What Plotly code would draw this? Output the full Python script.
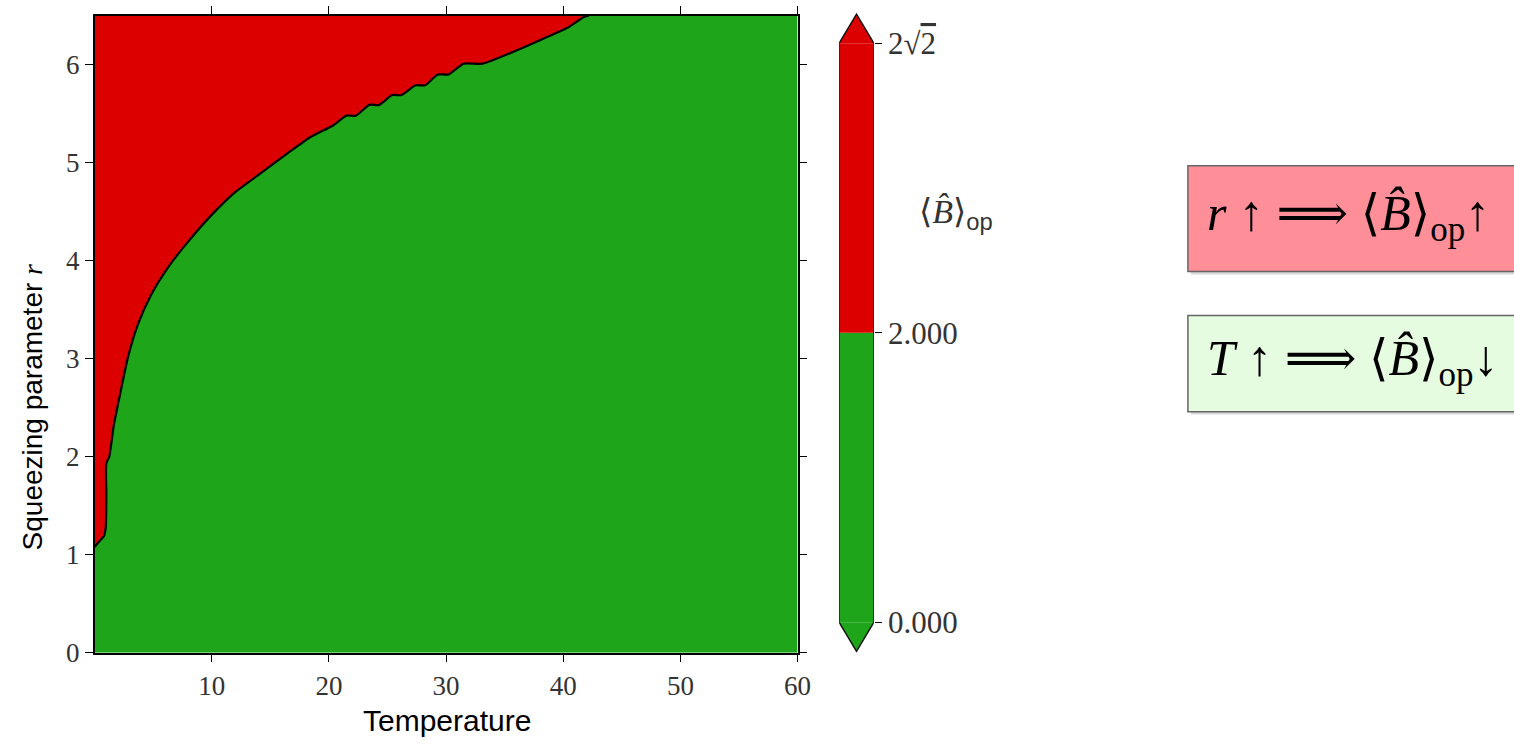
import plotly.graph_objects as go

# ---- data ----
T_boundary = [0.0, 0.35, 0.8, 0.95, 1.0, 1.0, 1.25, 1.65, 2.04, 2.88, 3.73, 4.86, 6.26, 7.95,
              9.93, 11.9, 14.16, 16.4, 18.4, 20.35, 21.5, 22.3, 23.45, 24.3, 25.4, 26.2, 27.4,
              28.2, 29.3, 30.2, 31.5, 33.1, 35.9, 38.2, 40.4, 41.8, 42.2]
r_boundary = [1.08, 1.13, 1.19, 1.28, 1.60, 1.93, 2.0, 2.33, 2.56, 3.03, 3.36, 3.66, 3.93, 4.19,
              4.46, 4.69, 4.89, 5.09, 5.26, 5.38, 5.48, 5.48, 5.59, 5.59, 5.69, 5.69, 5.79,
              5.79, 5.9, 5.9, 6.01, 6.01, 6.14, 6.26, 6.38, 6.49, 6.5]
T_range = [0, 60]
r_range = [0, 6.5]
x_ticks = [10, 20, 30, 40, 50, 60]
y_ticks = [0, 1, 2, 3, 4, 5, 6]
levels = [0.0, 2.0, 2 * 2 ** 0.5]
level_labels = ["0.000", "2.000", "2√<span style='text-decoration:overline'>2</span>"]
box_texts = ["<i>r</i> ↑ ⟹ ⟨<i>B̂</i>⟩<sub>op</sub>↑", "<i>T</i> ↑ ⟹ ⟨<i>B̂</i>⟩<sub>op</sub>↓"]

RED = "#dd0000"
GREEN = "#1ea519"
W, H = 1514, 753


def px(x):
    return x / W


def py(y):
    return 1 - y / H


fig = go.Figure()

# green region (below boundary)
gx = T_boundary + [T_range[1], T_range[1], T_range[0]]
gy = r_boundary + [r_range[1], r_range[0], r_range[0]]
fig.add_trace(go.Scatter(x=gx, y=gy, fill="toself", fillcolor=GREEN, mode="none",
                         hoverinfo="skip", showlegend=False))
# red region (above boundary)
rx = T_boundary + [T_range[0]]
ry = r_boundary + [r_range[1]]
fig.add_trace(go.Scatter(x=rx, y=ry, fill="toself", fillcolor=RED, mode="none",
                         hoverinfo="skip", showlegend=False))
# boundary line
fig.add_trace(go.Scatter(x=T_boundary, y=r_boundary, mode="lines",
                         line=dict(color="black", width=2.2, shape="spline", smoothing=0.6),
                         hoverinfo="skip", showlegend=False))

# ---- colorbar built as a small subplot (uniform spacing of levels) ----
n = len(levels)
ext = 0.1
pos = list(range(n))
cb_colors = [GREEN, RED]
for i in range(n - 1):
    xs = [0, 1, 1, 0]
    ys = [pos[i], pos[i], pos[i + 1], pos[i + 1]]
    fig.add_trace(go.Scatter(x=xs, y=ys, fill="toself", fillcolor=cb_colors[i], mode="none",
                             xaxis="x2", yaxis="y2", hoverinfo="skip", showlegend=False))
# extension arrows
fig.add_trace(go.Scatter(x=[0, 0.5, 1], y=[pos[-1], pos[-1] + ext, pos[-1]], fill="toself",
                         fillcolor=RED, mode="none", xaxis="x2", yaxis="y2",
                         hoverinfo="skip", showlegend=False))
fig.add_trace(go.Scatter(x=[0, 0.5, 1], y=[pos[0], pos[0] - ext, pos[0]], fill="toself",
                         fillcolor=GREEN, mode="none", xaxis="x2", yaxis="y2",
                         hoverinfo="skip", showlegend=False))
# outline
fig.add_trace(go.Scatter(x=[0, 0, 0.5, 1, 1, 0.5, 0],
                         y=[pos[0], pos[-1], pos[-1] + ext, pos[-1], pos[0], pos[0] - ext, pos[0]],
                         mode="lines", line=dict(color="#111", width=1.5), xaxis="x2", yaxis="y2",
                         hoverinfo="skip", showlegend=False))

serif = "Liberation Serif, DejaVu Serif, serif"
sans = "Liberation Sans, DejaVu Sans, sans-serif"
tickfont = dict(family=serif, size=27, color="#333")
cbtickfont = dict(family=serif, size=31, color="#333")

fig.update_layout(
    width=W, height=H,
    margin=dict(l=0, r=0, t=0, b=0),
    paper_bgcolor="white", plot_bgcolor="white",
    xaxis=dict(domain=[px(95.5), px(805)], range=T_range, tickvals=x_ticks,
               ticks="outside", ticklen=8, tickwidth=1.2, tickcolor="black",
               showline=True, linecolor="black", linewidth=1.5, mirror="ticks",
               showgrid=False, zeroline=False, tickfont=tickfont, fixedrange=True),
    yaxis=dict(domain=[py(666), py(16)], range=r_range, tickvals=y_ticks,
               ticks="outside", ticklen=8, tickwidth=1.2, tickcolor="black",
               showline=True, linecolor="black", linewidth=1.5, mirror="ticks",
               showgrid=False, zeroline=False, tickfont=tickfont, fixedrange=True),
    xaxis2=dict(domain=[px(847), px(882)], range=[0, 1], visible=False, fixedrange=True),
    yaxis2=dict(domain=[py(666), py(13)], anchor="x2", side="right",
                range=[pos[0] - ext - 0.005, pos[-1] + ext + 0.005],
                tickvals=pos, ticktext=level_labels, ticks="outside", ticklen=7,
                tickcolor="black", showline=False, showgrid=False, zeroline=False,
                tickfont=cbtickfont, fixedrange=True),
)

annotations = [
    dict(text="Temperature", x=px(451), y=py(735), xref="paper", yref="paper",
         showarrow=False, font=dict(family=sans, size=30, color="black"),
         xanchor="center", yanchor="middle"),
    dict(text="Squeezing parameter <span style='font-family:Liberation Serif'><i>r</i></span>",
         x=px(33), y=py(415), xref="paper", yref="paper", textangle=-90,
         showarrow=False, font=dict(family=sans, size=28, color="black"),
         xanchor="center", yanchor="middle"),
    dict(text="⟨<i>B̂</i>⟩<span style='font-family:Liberation Sans'><sub>op</sub></span>",
         x=px(926), y=py(218), xref="paper", yref="paper",
         showarrow=False, font=dict(family=serif, size=34, color="#333"),
         xanchor="left", yanchor="middle"),
]
box_y = [(169, 277, "#fe8f98"), (322, 420, "#e6fce0")]
for (y0, y1, col), txt in zip(box_y, box_texts):
    fig.add_shape(type="rect", xref="paper", yref="paper",
                  x0=px(1202), x1=px(1530), y0=py(y1 + 3), y1=py(y0 + 3),
                  fillcolor="#d8d8d8", line=dict(width=0), layer="below")
    fig.add_shape(type="rect", xref="paper", yref="paper",
                  x0=px(1199), x1=px(1530), y0=py(y1), y1=py(y0),
                  fillcolor=col, line=dict(color="#666", width=1.5), layer="below")
    annotations.append(dict(text=txt, x=px(1216), y=py((y0 + y1) / 2 - 2), xref="paper", yref="paper",
                            showarrow=False, font=dict(family=serif, size=50, color="black"),
                            xanchor="left", yanchor="middle"))
fig.update_layout(annotations=annotations)

fig.write_html("out.html", config={"displayModeBar": False},
               post_script="document.body.style.margin='0';document.body.style.overflow='hidden';")
